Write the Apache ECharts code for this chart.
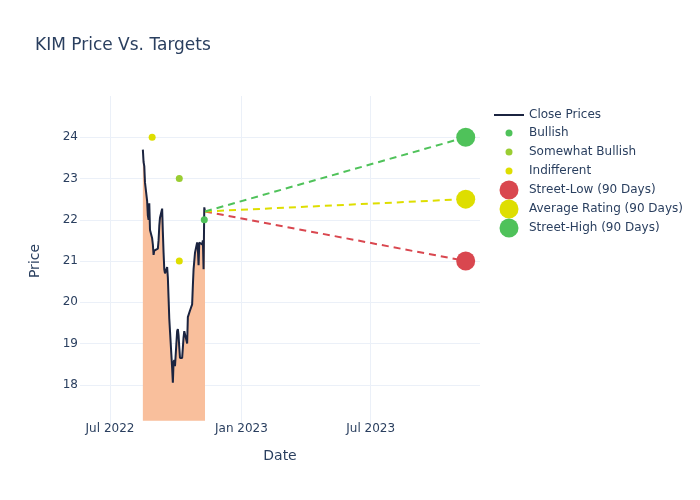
<!DOCTYPE html>
<html>
<head>
<meta charset="utf-8">
<script src="https://cdn.jsdelivr.net/npm/echarts@6/dist/echarts.min.js"></script>
<style>html,body{margin:0;padding:0;background:#fff}#c{width:700px;height:500px}</style>
</head>
<body>
<div id="c"></div>
<script>
var closeDates = ['2022-08-16','2022-08-17','2022-08-18','2022-08-19','2022-08-22','2022-08-23','2022-08-24','2022-08-25','2022-08-26','2022-08-29','2022-08-30','2022-08-31',
'2022-09-01','2022-09-02','2022-09-06','2022-09-07','2022-09-08','2022-09-09','2022-09-12','2022-09-13','2022-09-14','2022-09-15','2022-09-16','2022-09-19','2022-09-20','2022-09-21','2022-09-22','2022-09-23','2022-09-26','2022-09-27','2022-09-28','2022-09-29','2022-09-30',
'2022-10-03','2022-10-04','2022-10-05','2022-10-06','2022-10-07','2022-10-10','2022-10-11','2022-10-12','2022-10-13','2022-10-14','2022-10-17','2022-10-18','2022-10-19','2022-10-20','2022-10-21','2022-10-24','2022-10-25','2022-10-26','2022-10-27','2022-10-28','2022-10-31',
'2022-11-01','2022-11-02','2022-11-03','2022-11-04','2022-11-07','2022-11-08','2022-11-09','2022-11-10','2022-11-11'];
var closeValues = [23.7,23.4,23.3,22.9,22.45,22.1,22.0,22.4,21.75,21.55,21.4,21.15,
21.25,21.25,21.3,21.5,21.85,22.05,22.27,21.7,21.2,20.8,20.7,20.85,20.6,20.1,19.6,19.3,18.4,18.05,18.55,18.6,18.45,
19.3,19.35,19.2,18.9,18.65,18.65,18.9,19.15,19.3,19.3,19.0,19.64,19.6,19.65,19.8,19.95,20.4,20.8,21.0,21.2,21.45,
21.3,20.9,21.45,21.45,21.4,21.5,20.8,22.3,22.2];

var bullishDates = ['2022-11-10'];
var bullishValues = [22.0];
var somewhatBullishDates = ['2022-10-06'];
var somewhatBullishValues = [23.0];
var indifferentDates = ['2022-08-29','2022-10-06'];
var indifferentValues = [24.0,21.0];

var targetStartDate = '2022-11-11';
var targetStartValue = 22.2;
var targetDate = '2023-11-11';
var streetLow = 21.0;
var averageRating = 22.5;
var streetHigh = 24.0;

var xTickDates = ['2022-07-01','2023-01-01','2023-07-01'];
var xTickLabels = ['Jul 2022','Jan 2023','Jul 2023'];

function ts(s){ var p = s.split('-'); return Date.UTC(+p[0], +p[1]-1, +p[2]); }
function pairs(d, v){ return d.map(function(x,i){ return [ts(x), v[i]]; }); }

var txt = '#2a3f5f';
var font = 'DejaVu Sans';
var gridColor = '#ebf0f8';
var tickVals = xTickDates.map(ts);

// centred circle inside a wide box (w x h) for legend icons
function circleIcon(w, h){
  var r = h / 2, cx = w / 2, cy = h / 2;
  return 'path://M0,0M' + w + ',' + h + 'M' + (cx - r) + ',' + cy +
    'A' + r + ',' + r + ',0,1,1,' + (cx + r) + ',' + cy +
    'A' + r + ',' + r + ',0,1,1,' + (cx - r) + ',' + cy + 'Z';
}

function targetSeries(name, val, color){
  return {
    name: name, type: 'line',
    data: [[ts(targetStartDate), targetStartValue], [ts(targetDate), val]],
    symbol: 'circle',
    symbolSize: function(v, p){ return p.dataIndex === 1 ? 19 : 0; },
    showSymbol: true,
    itemStyle: {color: color, opacity: 1},
    lineStyle: {color: color, width: 2, type: [7, 5]},
    z: 5
  };
}

var chart = echarts.init(document.getElementById('c'));
var legendBase = {
  orient: 'vertical', left: 494, itemWidth: 30, itemGap: 0, padding: 0,
  textStyle: {fontSize: 12, color: txt, fontFamily: font, lineHeight: 19}
};
chart.setOption({
  animation: false,
  textStyle: {fontFamily: font},
  title: {text: 'KIM Price Vs. Targets', left: 35, top: 37, padding: 0,
    textStyle: {fontSize: 17, fontWeight: 'normal', color: txt, fontFamily: font}},
  legend: [
    Object.assign({}, legendBase, {data: [{name: 'Close Prices', icon: 'rect'}], top: 105.5, itemHeight: 2}),
    Object.assign({}, legendBase, {data: ['Bullish', 'Somewhat Bullish', 'Indifferent'], icon: circleIcon(30, 7), top: 123.5, itemHeight: 7}),
    Object.assign({}, legendBase, {data: ['Street-Low (90 Days)', 'Average Rating (90 Days)', 'Street-High (90 Days)'], icon: circleIcon(30, 19), top: 180.5, itemHeight: 19})
  ],
  grid: {left: 80, right: 220, top: 96, bottom: 74, containLabel: false},
  xAxis: {
    type: 'value', min: ts('2022-05-20'), max: ts('2023-12-01'),
    name: 'Date', nameLocation: 'middle', nameGap: 23,
    nameTextStyle: {fontSize: 14, color: txt, fontFamily: font},
    axisLine: {show: false},
    axisTick: {show: false, customValues: tickVals},
    axisLabel: {customValues: tickVals, margin: -3, fontSize: 12, color: txt, fontFamily: font,
      formatter: function(v){ var i = tickVals.indexOf(v); return i >= 0 ? xTickLabels[i] : ''; }},
    splitLine: {show: true, lineStyle: {color: gridColor, width: 1}}
  },
  yAxis: {
    type: 'value', min: 17, max: 25, interval: 1,
    name: 'Price', nameLocation: 'middle', nameGap: 38, nameRotate: 90,
    nameTextStyle: {fontSize: 14, color: txt, fontFamily: font},
    axisLine: {show: false}, axisTick: {show: false},
    axisLabel: {showMinLabel: false, showMaxLabel: false, margin: 2, fontSize: 12, color: txt, fontFamily: font},
    splitLine: {show: true, showMinLine: false, showMaxLine: false, lineStyle: {color: gridColor, width: 1}}
  },
  series: [
    {
      name: 'Close Prices', type: 'line', data: pairs(closeDates, closeValues),
      showSymbol: false, symbol: 'none',
      itemStyle: {color: '#1b2440'},
      lineStyle: {color: '#1b2440', width: 2},
      areaStyle: {color: '#f9bf9c', opacity: 1, origin: 17.13},
      z: 2
    },
    targetSeries('Street-Low (90 Days)', streetLow, '#d9474f'),
    targetSeries('Average Rating (90 Days)', averageRating, '#dede00'),
    targetSeries('Street-High (90 Days)', streetHigh, '#4fc25a'),
    {name: 'Bullish', type: 'scatter', data: pairs(bullishDates, bullishValues), symbolSize: 7, itemStyle: {color: '#4fc25a', opacity: 1}, z: 6},
    {name: 'Somewhat Bullish', type: 'scatter', data: pairs(somewhatBullishDates, somewhatBullishValues), symbolSize: 7, itemStyle: {color: '#9acd32', opacity: 1}, z: 6},
    {name: 'Indifferent', type: 'scatter', data: pairs(indifferentDates, indifferentValues), symbolSize: 7, itemStyle: {color: '#dede00', opacity: 1}, z: 6}
  ]
});
</script>
</body>
</html>
